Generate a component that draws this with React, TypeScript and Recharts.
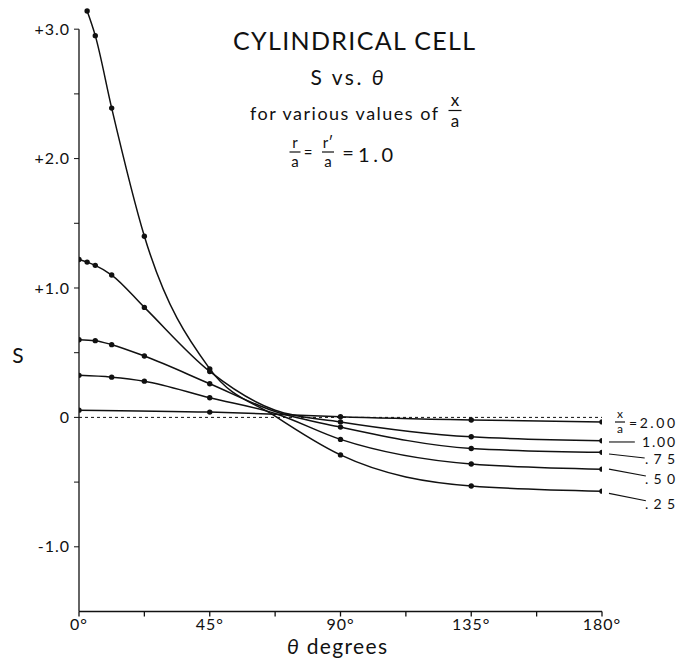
import { LineChart, Line, XAxis, YAxis, ReferenceLine } from "recharts";

// theta in degrees, S
const theta25 = [2.8, 5.6, 11.25, 22.5, 45, 67.5, 90, 135, 180];
const s25 = [3.14, 2.95, 2.39, 1.4, 0.375, 0.01, -0.29, -0.53, -0.57];

const theta50 = [0, 11.25, 22.5, 45, 67.5, 90, 135, 180];
const s50 = [0.325, 0.311, 0.28, 0.152, 0.03, -0.17, -0.36, -0.4];

const theta75 = [0, 5.6, 11.25, 22.5, 45, 67.5, 90, 135, 180];
const s75 = [0.6, 0.593, 0.562, 0.474, 0.26, 0.045, -0.075, -0.24, -0.27];

const theta100 = [0, 2.8, 5.6, 11.25, 22.5, 45, 67.5, 90, 135, 180];
const s100 = [1.22, 1.2, 1.175, 1.1, 0.85, 0.355, 0.055, -0.035, -0.15, -0.18];

const theta200 = [0, 45, 67.5, 90, 135, 180];
const s200 = [0.056, 0.041, 0.025, 0.005, -0.02, -0.035];

// the curve passes here but the original draws no marker
const unmarkedTheta = 67.5;

const xTicks = [0, 22.5, 45, 67.5, 90, 112.5, 135, 157.5, 180];
const yTicks = [-1, -0.5, 0, 0.5, 1, 1.5, 2, 2.5, 3];

// leader lines from curve ends (180°) out to the x/a labels
const leaderX = [182.4, 182.4, 182.4, 182.4];
const leaderEndX = [191.3, 194.7, 195.1, 195.1];
const leaderY = [-0.19, -0.283, -0.4, -0.587];
const leaderEndY = [-0.19, -0.314, -0.453, -0.644];

const FONT = "Lato, 'DejaVu Sans', sans-serif";
const INK = "#111";

const toRows = (t: number[], s: number[]) =>
  t.map((theta, i) => ({ theta, s: s[i], hidden: theta === unmarkedTheta }));

const series = [
  toRows(theta25, s25),
  toRows(theta50, s50),
  toRows(theta75, s75),
  toRows(theta100, s100),
  toRows(theta200, s200),
];

function Dot(props: any) {
  const { cx, cy, payload, index } = props;
  if (payload?.hidden || cx == null) return <g key={index} />;
  return <circle key={index} cx={cx} cy={cy} r={2.7} fill={INK} />;
}

function yFmt(v: number) {
  if (v % 1 !== 0) return "";
  if (v === 0) return "0";
  return v > 0 ? `+${v.toFixed(1)}` : v.toFixed(1);
}

function xFmt(v: number) {
  return v % 45 === 0 ? `${v}°` : "";
}

// stacked fraction: numerator baseline, bar, denominator baseline
function Frac({ x, top, bottom, topBase, yBar, botBase, size, w }: any) {
  return (
    <g>
      <text x={x} y={topBase} textAnchor="middle" fontSize={size}>
        {top}
      </text>
      <line x1={x - w / 2} x2={x + w / 2} y1={yBar} y2={yBar} stroke={INK} strokeWidth={1.2} />
      <text x={x} y={botBase} textAnchor="middle" fontSize={size}>
        {bottom}
      </text>
    </g>
  );
}

export default function App() {
  return (
    <div style={{ position: "absolute", left: 0, top: 0, width: 679, height: 668, background: "#fff" }}>
      <LineChart
        width={679}
        height={668}
        margin={{ top: 3.3, right: 77, bottom: 26.5, left: 0 }}
        style={{ position: "absolute", left: 0, top: 0 }}
      >
        <XAxis
          type="number"
          dataKey="theta"
          domain={[0, 180]}
          ticks={xTicks}
          tickFormatter={xFmt}
          height={30}
          tickSize={5}
          tickMargin={2}
          stroke={INK}
          strokeWidth={1.3}
          tick={{ fill: INK, fontSize: 16, fontFamily: FONT, letterSpacing: 1 }}
          allowDataOverflow
        />
        <YAxis
          type="number"
          domain={[-1.5, 3.2]}
          ticks={yTicks}
          tickFormatter={yFmt}
          width={79}
          tickSize={5}
          tickMargin={4}
          axisLine={false}
          stroke={INK}
          tick={{ fill: INK, fontSize: 16, fontFamily: FONT, letterSpacing: 1 }}
          allowDataOverflow
        />
        <ReferenceLine
          segment={[
            { x: 0, y: -1.5 },
            { x: 0, y: 3 },
          ]}
          stroke={INK}
          strokeWidth={1.3}
          ifOverflow="visible"
        />
        <ReferenceLine y={0} stroke={INK} strokeWidth={1} strokeDasharray="3 3" />
        {leaderX.map((x, i) => (
          <ReferenceLine
            key={i}
            segment={[
              { x, y: leaderY[i] },
              { x: leaderEndX[i], y: leaderEndY[i] },
            ]}
            stroke={INK}
            strokeWidth={1.1}
            ifOverflow="visible"
          />
        ))}
        {series.map((d, i) => (
          <Line
            key={i}
            data={d}
            dataKey="s"
            type="monotone"
            stroke={INK}
            strokeWidth={1.5}
            dot={Dot}
            activeDot={false}
            isAnimationActive={false}
          />
        ))}
      </LineChart>

      <svg
        width={679}
        height={668}
        style={{ position: "absolute", left: 0, top: 0, pointerEvents: "none" }}
        fontFamily={FONT}
        fill={INK}
      >
        <text x={354} y={50} textAnchor="middle" fontSize={25} textLength={242} lengthAdjust="spacing">
          CYLINDRICAL CELL
        </text>
        <text x={347} y={85} textAnchor="middle" fontSize={21} textLength={73} lengthAdjust="spacing">
          S vs. <tspan fontStyle="italic">θ</tspan>
        </text>
        <text x={250} y={120} fontSize={18} textLength={188} lengthAdjust="spacing">
          for various values of
        </text>
        <Frac x={455} top="x" bottom="a" topBase={106} yBar={110.5} botBase={127} size={17} w={13} />

        <Frac x={295} top="r" bottom="a" topBase={148} yBar={152} botBase={167} size={15} w={11} />
        <text x={308} y={158} textAnchor="middle" fontSize={15}>
          =
        </text>
        <Frac x={328} top="r′" bottom="a" topBase={148} yBar={152} botBase={167} size={15} w={12} />
        <text x={348} y={160} textAnchor="middle" fontSize={20}>
          =
        </text>
        <text x={358} y={162} fontSize={20} textLength={35} lengthAdjust="spacing">
          1.0
        </text>

        <text x={18} y={363} textAnchor="middle" fontSize={21}>
          S
        </text>
        <text x={337} y={654} textAnchor="middle" fontSize={21} textLength={100} lengthAdjust="spacing">
          <tspan fontStyle="italic">θ</tspan> degrees
        </text>

        <Frac x={620} top="x" bottom="a" topBase={418} yBar={422} botBase={433} size={12} w={10} />
        <text x={629} y={428} fontSize={14} textLength={46} lengthAdjust="spacing">
          =2.00
        </text>
        <text x={642} y={447} fontSize={14} textLength={33} lengthAdjust="spacing">
          1.00
        </text>
        <text x={645} y={464} fontSize={14} textLength={30} lengthAdjust="spacing">
          .75
        </text>
        <text x={645} y={484} fontSize={14} textLength={30} lengthAdjust="spacing">
          .50
        </text>
        <text x={645} y={509} fontSize={14} textLength={30} lengthAdjust="spacing">
          .25
        </text>
      </svg>
    </div>
  );
}
